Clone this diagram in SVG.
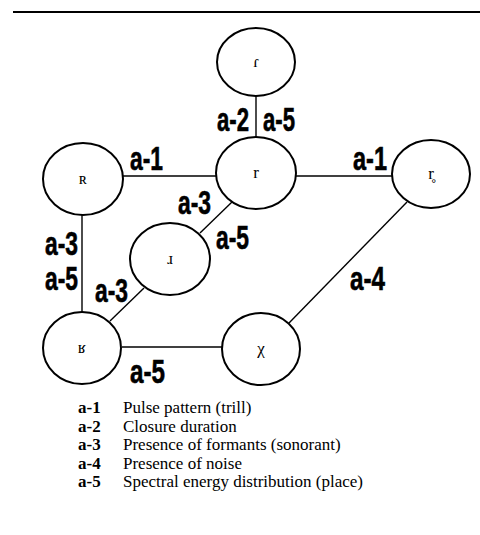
<svg xmlns="http://www.w3.org/2000/svg" width="480" height="535" viewBox="0 0 480 535">
<style>
.node ellipse{fill:#fff;stroke:#000;stroke-width:2}
.node text{font-family:"Liberation Serif","DejaVu Serif",serif;font-size:17px;text-anchor:middle;fill:#000}
#edges line{stroke:#000;stroke-width:1.4}
.el{font-family:"Liberation Sans","DejaVu Sans",sans-serif;font-weight:bold;font-size:34px;fill:#000;stroke:#000;stroke-width:0.6}
.lk{font-family:"Liberation Serif",serif;font-weight:bold;font-size:17px;fill:#000}
.ld{font-family:"Liberation Serif",serif;font-size:17px;fill:#000}
</style>
<rect width="480" height="535" fill="#fff"/>
<line x1="13" y1="12" x2="480" y2="12" stroke="#000" stroke-width="2"/>
<g id="edges">
<line x1="256" y1="96" x2="256" y2="137"/>
<line x1="123" y1="176" x2="216" y2="176"/>
<line x1="296" y1="176" x2="392" y2="176"/>
<line x1="232" y1="202" x2="200" y2="233"/>
<line x1="110" y1="321" x2="144" y2="288"/>
<line x1="82" y1="215" x2="82" y2="312"/>
<line x1="122" y1="347" x2="222" y2="347"/>
<line x1="289" y1="323" x2="407" y2="202"/>
</g>
<g id="edge-labels">
<text class="el" x="217" y="131" textLength="32" lengthAdjust="spacingAndGlyphs">a-2</text>
<text class="el" x="263" y="131" textLength="32" lengthAdjust="spacingAndGlyphs">a-5</text>
<text class="el" x="130" y="170" textLength="33" lengthAdjust="spacingAndGlyphs">a-1</text>
<text class="el" x="353" y="170" textLength="34" lengthAdjust="spacingAndGlyphs">a-1</text>
<text class="el" x="178" y="214" textLength="33" lengthAdjust="spacingAndGlyphs">a-3</text>
<text class="el" x="216" y="249" textLength="33" lengthAdjust="spacingAndGlyphs">a-5</text>
<text class="el" x="45" y="255" textLength="33" lengthAdjust="spacingAndGlyphs">a-3</text>
<text class="el" x="45" y="290" textLength="33" lengthAdjust="spacingAndGlyphs">a-5</text>
<text class="el" x="95" y="302" textLength="33" lengthAdjust="spacingAndGlyphs">a-3</text>
<text class="el" x="130" y="383" textLength="35" lengthAdjust="spacingAndGlyphs">a-5</text>
<text class="el" x="350" y="290" textLength="35" lengthAdjust="spacingAndGlyphs">a-4</text>
</g>
<g id="n-tap" class="node"><ellipse cx="256" cy="62" rx="39" ry="34"/><text x="256" y="67">ɾ</text></g>
<g id="n-r" class="node"><ellipse cx="256" cy="173" rx="40" ry="36"/><text x="256" y="178">r</text></g>
<g id="n-R" class="node"><ellipse cx="83" cy="179" rx="40" ry="36"/><text x="83" y="184" font-size="14">ʀ</text></g>
<g id="n-rv" class="node"><ellipse cx="431" cy="174" rx="39" ry="34"/><text x="431" y="179">r̥</text></g>
<g id="n-appr" class="node"><ellipse cx="170" cy="259" rx="40" ry="36"/><text x="170" y="264">ɹ</text></g>
<g id="n-fric" class="node"><ellipse cx="82" cy="348" rx="39" ry="36"/><text x="82" y="353">ʁ</text></g>
<g id="n-chi" class="node"><ellipse cx="261" cy="349" rx="39" ry="36"/><text x="261" y="354">χ</text></g>
<g id="legend">
<text class="lk" x="78" y="413">a-1</text><text class="ld" x="123" y="413">Pulse pattern (trill)</text>
<text class="lk" x="78" y="431.5">a-2</text><text class="ld" x="123" y="431.5">Closure duration</text>
<text class="lk" x="78" y="450">a-3</text><text class="ld" x="123" y="450">Presence of formants (sonorant)</text>
<text class="lk" x="78" y="468.5">a-4</text><text class="ld" x="123" y="468.5">Presence of noise</text>
<text class="lk" x="78" y="487">a-5</text><text class="ld" x="123" y="487">Spectral energy distribution (place)</text>
</g>
</svg>
